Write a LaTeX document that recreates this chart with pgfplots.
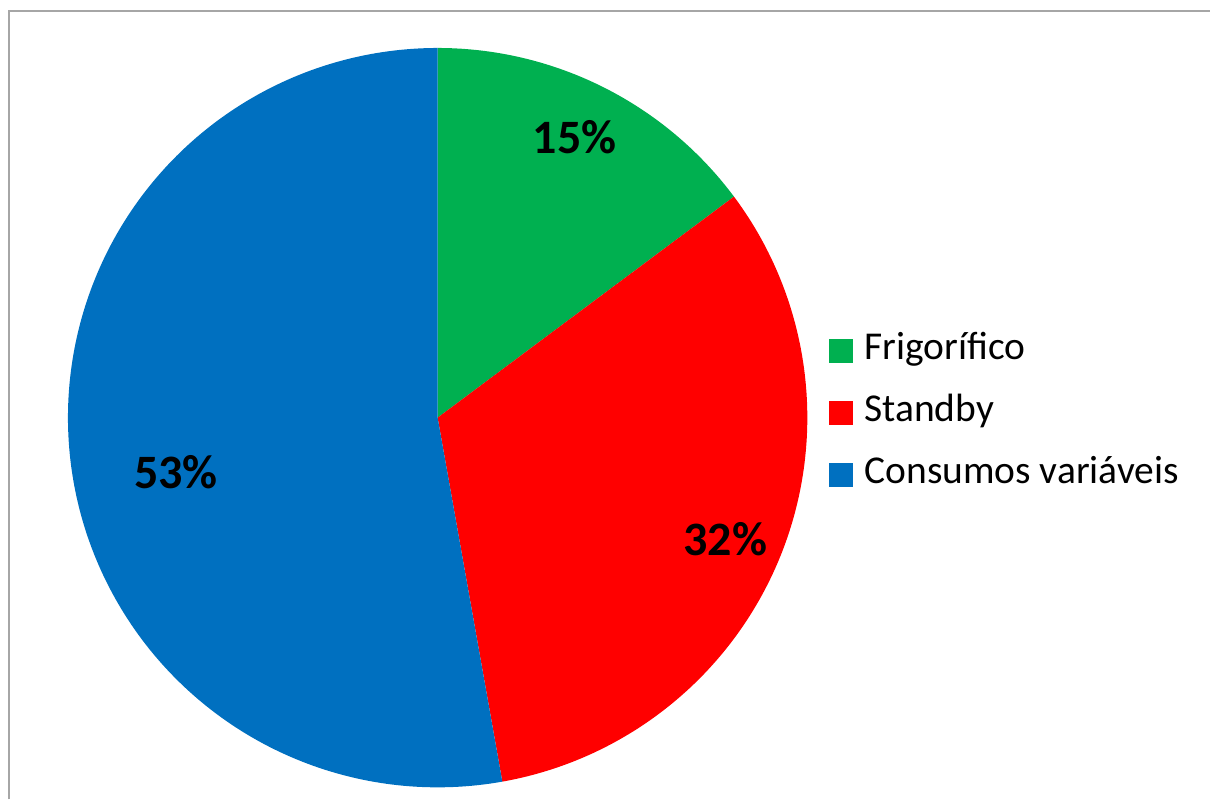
\documentclass[border=0pt]{standalone}
\usepackage{pgfplots}
\usepackage{pgfplotstable}
\pgfplotsset{compat=1.18}
\usepackage{fontspec}
\setmainfont{Carlito}
\definecolor{pgreen}{HTML}{00B050}
\definecolor{pred}{HTML}{FF0000}
\definecolor{pblue}{HTML}{0070C0}
\definecolor{frame}{HTML}{A6A6A6}
\pgfplotstableread{
label value
Frigorifico 14.8
Standby 32.4
Consumos 52.8
}\pietable
\pgfplotstablegetelem{0}{value}\of\pietable \let\vA\pgfplotsretval
\pgfplotstablegetelem{1}{value}\of\pietable \let\vB\pgfplotsretval
\pgfplotstablegetelem{2}{value}\of\pietable \let\vC\pgfplotsretval
\pgfmathsetmacro\aA{90}
\pgfmathsetmacro\aB{90-3.6*\vA}
\pgfmathsetmacro\aC{\aB-3.6*\vB}
\pgfmathsetmacro\aD{\aC-3.6*\vC}
\def\cx{438}\def\cy{418}\def\r{370}
\begin{document}
\begin{tikzpicture}
\begin{axis}[
  scale only axis, hide axis, clip=false,
  x=1bp, y=1bp, y dir=reverse,
  xmin=0, xmax=1211, ymin=0, ymax=800,
  legend style={at={(axis cs:829,333)}, anchor=north west, draw=none, fill=none,
    inner sep=0pt, font=\fontsize{39.5bp}{46bp}\selectfont, row sep=26bp,
    nodes={inner sep=0pt, text height=27bp, text depth=9bp}},
  legend cell align=left,
  legend image code/.code={\fill[#1] (0bp,-12bp) rectangle (24bp,12bp);},
  /tikz/every odd column/.append style={column sep=12bp},
]
\path (axis cs:0,0) rectangle (axis cs:1211,800);
\draw[frame, line width=2bp] (axis cs:9,800) -- (axis cs:9,11) -- (axis cs:1211,11);
\addplot[fill=pgreen, draw=none, domain=\aA:\aB, samples=100, variable=\t]
  ({\cx+\r*cos(\t)}, {\cy-\r*sin(\t)}) -- (axis cs:\cx,\cy) -- cycle;
\addlegendentry{Frigorífico}
\addplot[fill=pred, draw=none, domain=\aB:\aC, samples=150, variable=\t]
  ({\cx+\r*cos(\t)}, {\cy-\r*sin(\t)}) -- (axis cs:\cx,\cy) -- cycle;
\addlegendentry{Standby}
\addplot[fill=pblue, draw=none, domain=\aC:\aD, samples=200, variable=\t]
  ({\cx+\r*cos(\t)}, {\cy-\r*sin(\t)}) -- (axis cs:\cx,\cy) -- cycle;
\addlegendentry{Consumos variáveis}
\node[font=\fontsize{48bp}{56bp}\selectfont\bfseries] at (axis cs:575,137) {15\%};
\node[font=\fontsize{48bp}{56bp}\selectfont\bfseries] at (axis cs:726,540) {32\%};
\node[font=\fontsize{48bp}{56bp}\selectfont\bfseries] at (axis cs:176,473) {53\%};
\end{axis}
\end{tikzpicture}
\end{document}
